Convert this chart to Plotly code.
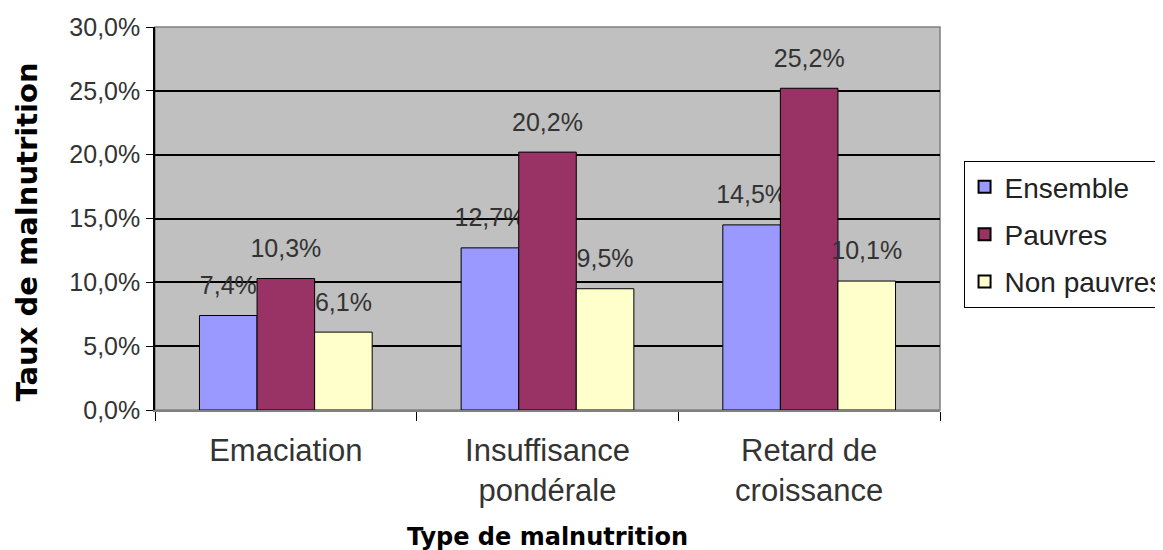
import plotly.graph_objects as go

categories = ["Emaciation", "Insuffisance<br>pondérale", "Retard de<br>croissance"]
series_names = ["Ensemble", "Pauvres", "Non pauvres"]
ensemble = [0.074, 0.127, 0.145]
pauvres = [0.103, 0.202, 0.252]
non_pauvres = [0.061, 0.095, 0.101]
colors = ["#9999FF", "#993366", "#FFFFCC"]

fig = go.Figure()
for name, vals, col in zip(series_names, [ensemble, pauvres, non_pauvres], colors):
    fig.add_trace(go.Bar(
        x=categories, y=vals, name=name, legendgroup=name,
        marker=dict(color=col, line=dict(color="#000000", width=1)),
        texttemplate="<span style='font-size:25px'>%{y:.1%}</span><br> ",
        textposition="outside", constraintext="none",
        textfont=dict(family="Liberation Sans, Arial", size=12, color="#333333"),
        cliponaxis=False,
    ))

fig.update_layout(
    width=1163, height=550,
    separators=",.",
    barmode="group", bargap=0.34, bargroupgap=0,
    plot_bgcolor="#C0C0C0", paper_bgcolor="#FFFFFF",
    margin=dict(l=147, r=231, t=19, b=148, autoexpand=False),
    font=dict(family="Liberation Sans, Arial", size=24, color="#333333"),
    legend=dict(
        x=1.03, xanchor="left", y=0.65, yanchor="top",
        bgcolor="#FFFFFF", bordercolor="#000000", borderwidth=1,
        font=dict(size=28, color="#222222"), itemsizing="constant",
        tracegroupgap=8, itemwidth=30,
    ),
    showlegend=True,
    annotations=[dict(
        text="<b>Taux de malnutrition</b>", textangle=-90,
        xref="paper", yref="paper", x=0, y=0.5, xanchor="center", yanchor="middle",
        xshift=-129, yshift=-14, showarrow=False,
        font=dict(family="DejaVu Sans", size=29, color="#000000"),
    )],
)
fig.update_yaxes(
    range=[0, 0.30], dtick=0.05, tickformat=".1%",
    showgrid=True, gridcolor="#000000", gridwidth=1.5,
    ticks="outside", ticklen=7, tickcolor="#000000",
    showline=True, linecolor="#000000", linewidth=1.5,
    tickfont=dict(size=25, color="#333333"), ticklabelstandoff=1,
    zeroline=False,
)
fig.update_xaxes(
    tickson="boundaries", ticks="outside", ticklen=9, tickcolor="#000000",
    showline=True, linecolor="#808080", linewidth=1.5,
    tickfont=dict(family="Liberation Sans", size=31, color="#333333"),
    ticklabelstandoff=12,
    title=dict(text="<b>Type de malnutrition</b>",
               font=dict(family="DejaVu Sans", size=24, color="#000000"), standoff=21),
)
fig.add_shape(type="rect", xref="paper", yref="paper", x0=0, y0=0, x1=1, y1=1,
              line=dict(color="#808080", width=1.5), layer="below")

fig.write_html("out.html")
